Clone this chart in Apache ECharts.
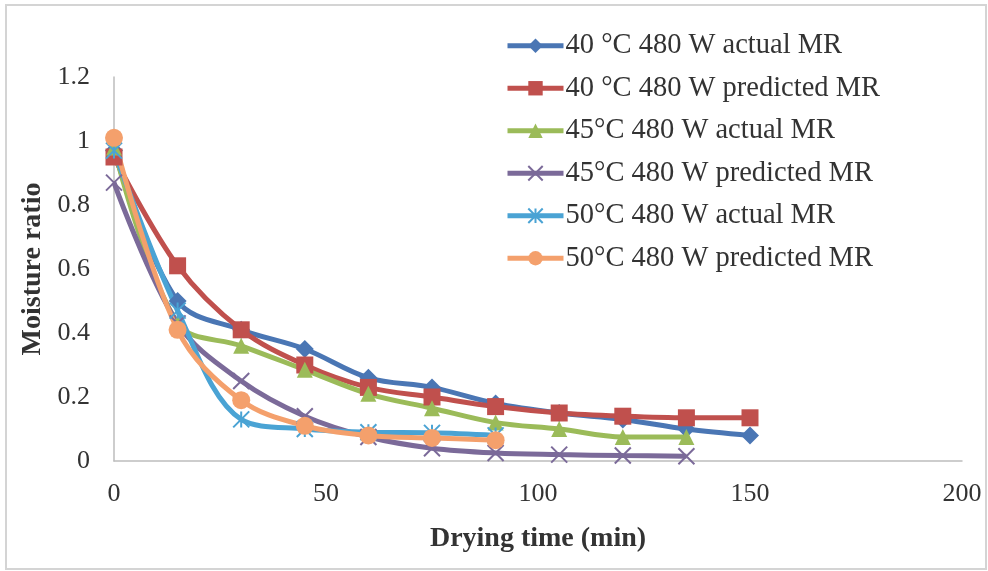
<!DOCTYPE html>
<html>
<head>
<meta charset="utf-8">
<script src="https://cdn.jsdelivr.net/npm/echarts@6/dist/echarts.min.js"></script>
<style>
  html, body { margin: 0; padding: 0; background: #fff; }
  #chart { width: 988px; height: 571px; }
</style>
</head>
<body>
<div id="chart"></div>
<script>
// drying time (min)
var times = [0, 15, 30, 45, 60, 75, 90, 105, 120, 135, 150];

// moisture ratio per series
var mr40Actual = [0.97, 0.50, 0.41, 0.35, 0.26, 0.23, 0.18, 0.15, 0.13, 0.10, 0.08];
var mr40Pred   = [0.95, 0.61, 0.41, 0.30, 0.23, 0.20, 0.17, 0.15, 0.14, 0.135, 0.135];
var mr45Actual = [0.98, 0.43, 0.36, 0.285, 0.21, 0.165, 0.12, 0.10, 0.075, 0.075];
var mr45Pred   = [0.87, 0.43, 0.25, 0.14, 0.075, 0.04, 0.025, 0.02, 0.017, 0.015];
var mr50Actual = [0.97, 0.47, 0.13, 0.10, 0.09, 0.088, 0.08];
var mr50Pred   = [1.01, 0.41, 0.19, 0.11, 0.08, 0.072, 0.065];

var names = [
  '40 °C 480 W actual MR',
  '40 °C 480 W predicted MR',
  '45°C 480 W actual MR',
  '45°C 480 W predicted MR',
  '50°C 480 W actual MR',
  '50°C 480 W predicted MR'
];

var crossPath = 'path://M0,0 L10,10 M10,0 L0,10';
var starPath = 'path://M0,0 L10,10 M10,0 L0,10 M5,0 L5,10';

function pairs(vals) {
  return vals.map(function (v, i) { return [times[i], v]; });
}

function mkSeries(name, vals, color, symbol, size, stroke) {
  var s = {
    name: name,
    type: 'line',
    data: pairs(vals),
    smooth: 0.35,
    symbol: symbol,
    symbolSize: size,
    lineStyle: { color: color, width: 5 },
    itemStyle: { color: color }
  };
  if (stroke) {
    s.itemStyle = { color: color, borderColor: color, borderWidth: 2 };
  }
  return s;
}

var chart = echarts.init(document.getElementById('chart'));

var serif = '"Liberation Serif", "DejaVu Serif", serif';

chart.setOption({
  animation: false,
  backgroundColor: '#fff',
  graphic: [{
    type: 'rect',
    shape: { x: 6, y: 5, width: 980, height: 564 },
    style: { fill: 'none', stroke: '#d4d4d4', lineWidth: 2 },
    silent: true
  }],
  grid: { left: 114, right: 26, top: 77, bottom: 110 },
  legend: {
    orient: 'vertical',
    left: 500,
    top: 26,
    itemWidth: 56,
    itemHeight: 18,
    itemGap: 13,
    data: names,
    lineStyle: { width: 5 },
    textStyle: { fontFamily: serif, fontSize: 28.5, color: '#333', lineHeight: 29.5, padding: [0, 0, 0, -3] }
  },
  xAxis: {
    type: 'value',
    min: 0,
    max: 200,
    interval: 50,
    name: 'Drying time (min)',
    nameLocation: 'middle',
    nameGap: 64,
    nameTextStyle: { fontFamily: serif, fontSize: 28, fontWeight: 'bold', color: '#333' },
    axisLine: { show: true, lineStyle: { color: '#bdbdbd', width: 1.5 } },
    axisTick: { show: false },
    splitLine: { show: false },
    axisLabel: { fontFamily: serif, fontSize: 26, color: '#333', margin: 20 }
  },
  yAxis: {
    type: 'value',
    min: 0,
    max: 1.2,
    interval: 0.2,
    name: 'Moisture ratio',
    nameLocation: 'middle',
    nameGap: 64,
    nameTextStyle: { fontFamily: serif, fontSize: 28, fontWeight: 'bold', color: '#333' },
    axisLine: { show: true, lineStyle: { color: '#bdbdbd', width: 1.5 } },
    axisTick: { show: false },
    splitLine: { show: false },
    axisLabel: { fontFamily: serif, fontSize: 26, color: '#333', margin: 24 }
  },
  series: [
    mkSeries(names[0], mr40Actual, '#4a76b4', 'diamond', 18),
    mkSeries(names[1], mr40Pred, '#c0504d', 'rect', 17),
    mkSeries(names[2], mr45Actual, '#9bbb59', 'triangle', 16),
    mkSeries(names[3], mr45Pred, '#7b6a99', crossPath, 16, true),
    mkSeries(names[4], mr50Actual, '#4aa3d4', starPath, 16, true),
    mkSeries(names[5], mr50Pred, '#f4a06c', 'circle', 18)
  ]
});
</script>
</body>
</html>
